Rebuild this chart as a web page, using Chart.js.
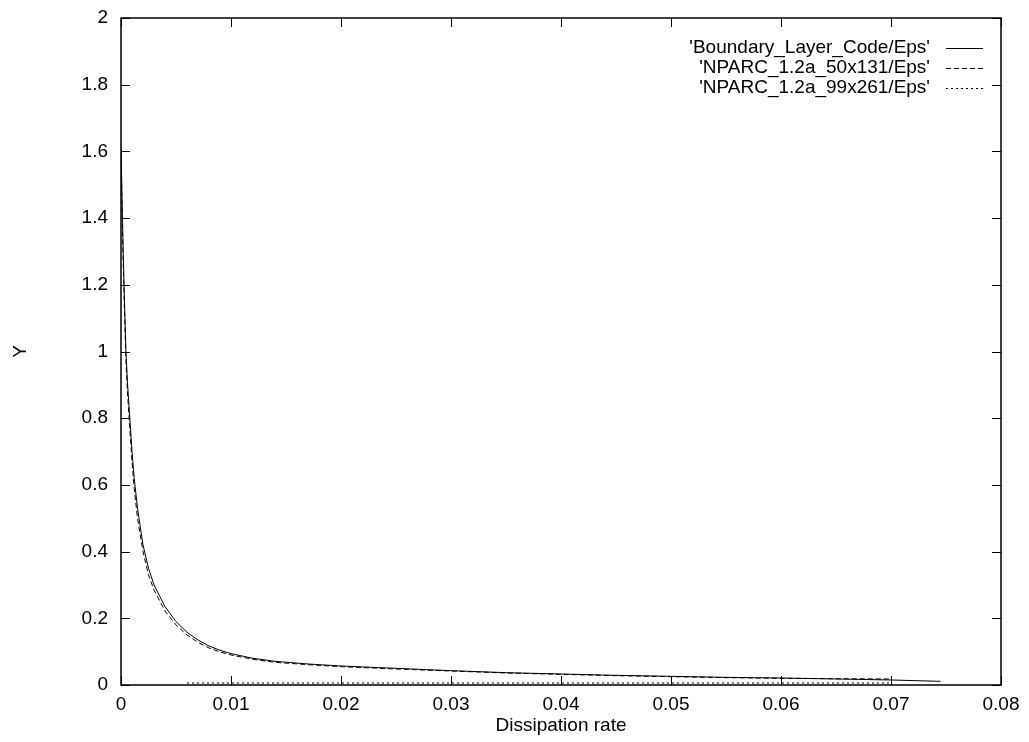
<!DOCTYPE html>
<html>
<head>
<meta charset="utf-8">
<script src="https://cdn.jsdelivr.net/npm/chart.js@4.4.0/dist/chart.umd.min.js"></script>
<style>
  html, body { margin: 0; padding: 0; background: #fff; }
  #wrap { width: 1029px; height: 742px; }
</style>
</head>
<body>
<div id="wrap"><canvas id="eps"></canvas></div>
<script>
// Dissipation rate profiles, eps vs Y
const blcX = [0, 0.0001, 0.0002, 0.0003, 0.00045, 0.0006, 0.0008, 0.001, 0.0012, 0.0015, 0.002, 0.0025, 0.003, 0.004, 0.005, 0.006, 0.007, 0.008, 0.009, 0.01, 0.012, 0.014, 0.017, 0.02, 0.025, 0.03, 0.035, 0.04, 0.045, 0.05, 0.055, 0.06, 0.065, 0.07, 0.0745];
const blcY = [1.62, 1.45, 1.3, 1.17, 1.0, 0.9, 0.8, 0.7, 0.62, 0.53, 0.42, 0.35, 0.3, 0.235, 0.19, 0.158, 0.135, 0.117, 0.104, 0.094, 0.08, 0.071, 0.063, 0.057, 0.05, 0.043, 0.037, 0.033, 0.029, 0.026, 0.023, 0.021, 0.018, 0.015, 0.011];

const n50X = [0, 0.0001, 0.0002, 0.0003, 0.00045, 0.0006, 0.0008, 0.001, 0.0012, 0.0015, 0.002, 0.0025, 0.003, 0.004, 0.005, 0.006, 0.007, 0.008, 0.009, 0.01, 0.012, 0.014, 0.017, 0.02, 0.025, 0.03, 0.035, 0.04, 0.045, 0.05, 0.055, 0.06, 0.065, 0.07];
const n50Y = [1.6, 1.42, 1.27, 1.14, 0.97, 0.87, 0.77, 0.67, 0.59, 0.5, 0.4, 0.33, 0.285, 0.222, 0.18, 0.15, 0.128, 0.111, 0.099, 0.09, 0.077, 0.068, 0.061, 0.055, 0.048, 0.042, 0.036, 0.032, 0.028, 0.025, 0.022, 0.02, 0.019, 0.018];

const n99X = [0.006, 0.01, 0.02, 0.03, 0.04, 0.05, 0.06, 0.07];
const n99Y = [0.006, 0.006, 0.006, 0.006, 0.006, 0.006, 0.006, 0.006];

const xTicks = [0, 0.01, 0.02, 0.03, 0.04, 0.05, 0.06, 0.07, 0.08];
const yTicks = [0, 0.2, 0.4, 0.6, 0.8, 1, 1.2, 1.4, 1.6, 1.8, 2];

const seriesNames = ["'Boundary_Layer_Code/Eps'", "'NPARC_1.2a_50x131/Eps'", "'NPARC_1.2a_99x261/Eps'"];

const FONT = 'Liberation Sans, Arial, Helvetica, sans-serif';
const FSIZE = 19;

const pts = (xs, ys) => xs.map((x, i) => ({ x, y: ys[i] }));

const line = (label, data, dash) => ({
  label,
  data,
  showLine: true,
  borderColor: '#000',
  borderWidth: 1,
  borderDash: dash,
  pointRadius: 0,
  tension: 0,
  fill: false,
});

// gnuplot-style frame: full box with inward ticks on all four sides
const framePlugin = {
  id: 'frame',
  afterDraw(c) {
    const { ctx, chartArea: a, scales } = c;
    const len = 9;
    ctx.save();
    ctx.strokeStyle = '#000';
    ctx.lineWidth = 1;
    ctx.beginPath();
    xTicks.forEach((v) => {
      const px = Math.round(scales.x.getPixelForValue(v)) + 0.5;
      ctx.moveTo(px, a.bottom); ctx.lineTo(px, a.bottom - len);
      ctx.moveTo(px, a.top); ctx.lineTo(px, a.top + len);
    });
    yTicks.forEach((v) => {
      const py = Math.round(scales.y.getPixelForValue(v)) + 0.5;
      ctx.moveTo(a.left, py); ctx.lineTo(a.left + len, py);
      ctx.moveTo(a.right, py); ctx.lineTo(a.right - len, py);
    });
    ctx.stroke();
    ctx.lineWidth = 1.5;
    ctx.strokeRect(a.left, a.top, a.right - a.left, a.bottom - a.top);
    ctx.restore();
  },
};

// Legend in the top right corner: right-aligned key text, line sample after it
const keyPlugin = {
  id: 'key',
  afterDraw(c) {
    const { ctx } = c;
    const textRight = 930;
    const sampleX0 = 946;
    const sampleX1 = 983;
    const top = 47.5;
    const rowH = 20;
    ctx.save();
    ctx.font = FSIZE + 'px ' + FONT;
    ctx.fillStyle = '#000';
    ctx.textAlign = 'right';
    ctx.textBaseline = 'middle';
    c.data.datasets.forEach((ds, i) => {
      const y = top + i * rowH;
      ctx.fillText(ds.label, textRight, y);
      ctx.beginPath();
      ctx.setLineDash(ds.borderDash || []);
      ctx.lineWidth = 1;
      ctx.strokeStyle = '#000';
      ctx.moveTo(sampleX0, Math.round(y) + 0.5);
      ctx.lineTo(sampleX1, Math.round(y) + 0.5);
      ctx.stroke();
    });
    ctx.restore();
  },
};

new Chart(document.getElementById('eps'), {
  type: 'scatter',
  data: {
    datasets: [
      line(seriesNames[0], pts(blcX, blcY), []),
      line(seriesNames[1], pts(n50X, n50Y), [5, 3]),
      line(seriesNames[2], pts(n99X, n99Y), [2, 3]),
    ],
  },
  options: {
    responsive: true,
    maintainAspectRatio: false,
    animation: false,
    layout: {
      padding: { top: 18, right: 28, bottom: 0, left: 0 },
    },
    scales: {
      x: {
        type: 'linear',
        min: 0,
        max: 0.08,
        afterFit: (s) => { s.height = 57; s.paddingLeft = 0; s.paddingRight = 0; },
        afterBuildTicks: (s) => { s.ticks = xTicks.map((v) => ({ value: v })); },
        grid: { drawOnChartArea: false, drawTicks: false, display: false },
        border: { display: false },
        ticks: {
          color: '#000',
          padding: 8,
          maxRotation: 0,
          autoSkip: false,
          font: { family: FONT, size: FSIZE },
          callback: (v) => String(Math.round(v * 100) / 100),
        },
        title: {
          display: true,
          text: 'Dissipation rate',
          color: '#000',
          font: { family: FONT, size: FSIZE },
          padding: { top: 0, bottom: 5 },
        },
      },
      y: {
        type: 'linear',
        min: 0,
        max: 2,
        afterFit: (s) => { s.width = 121; s.paddingTop = 0; s.paddingBottom = 0; },
        afterBuildTicks: (s) => { s.ticks = yTicks.map((v) => ({ value: v })); },
        grid: { drawOnChartArea: false, drawTicks: false, display: false },
        border: { display: false },
        ticks: {
          color: '#000',
          padding: 13,
          autoSkip: false,
          font: { family: FONT, size: FSIZE },
          callback: (v) => String(Math.round(v * 10) / 10),
        },
        title: {
          display: true,
          text: 'Y',
          color: '#000',
          font: { family: FONT, size: FSIZE },
          padding: { top: 9, bottom: 0 },
        },
      },
    },
    plugins: {
      legend: { display: false },
      tooltip: { enabled: false },
    },
  },
  plugins: [framePlugin, keyPlugin],
});
</script>
</body>
</html>
